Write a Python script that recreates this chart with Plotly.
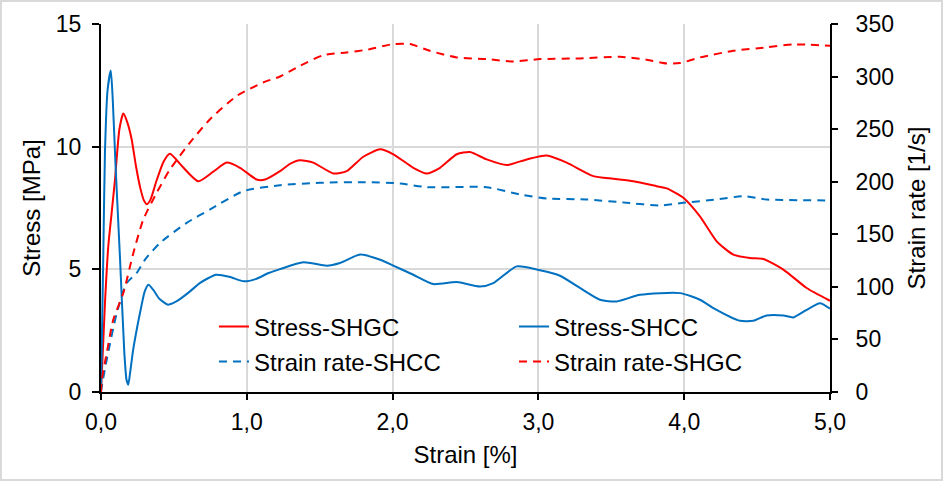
import plotly.graph_objects as go

# ---------------- data ----------------
shcc_stress_x = [0.0, 0.016, 0.027, 0.045, 0.067, 0.08, 0.10, 0.13, 0.16, 0.175, 0.187, 0.20, 0.22, 0.25, 0.267,
                 0.30, 0.325, 0.36, 0.40, 0.46, 0.52, 0.60, 0.68, 0.79, 0.88, 0.98, 1.06, 1.15, 1.228,
                 1.388, 1.548, 1.639, 1.777, 1.915, 2.005, 2.142, 2.279, 2.440, 2.599, 2.691, 2.851,
                 3.011, 3.148, 3.285, 3.422, 3.537, 3.697, 3.971, 4.108, 4.200, 4.383, 4.474, 4.566,
                 4.680, 4.748, 4.840, 4.931, 5.0]
shcc_stress_y = [0.0, 5.66, 9.75, 12.3, 13.1, 12.0, 9.2, 5.5, 1.6, 0.5, 0.3, 0.8, 1.7, 2.7, 3.21,
                 4.1, 4.37, 4.15, 3.8, 3.56, 3.7, 4.05, 4.45, 4.78, 4.7, 4.51, 4.6, 4.85, 5.01,
                 5.29, 5.15, 5.26, 5.60, 5.39, 5.15, 4.78, 4.40, 4.48, 4.30, 4.44, 5.12,
                 4.96, 4.74, 4.24, 3.76, 3.69, 3.96, 4.03, 3.76, 3.42, 2.90, 2.90, 3.12,
                 3.12, 3.04, 3.35, 3.62, 3.40]

shgc_stress_x = [0.0, 0.027, 0.050, 0.073, 0.096, 0.126, 0.153, 0.18, 0.21, 0.24, 0.27, 0.295, 0.315,
                 0.34, 0.38, 0.43, 0.473, 0.555, 0.667, 0.770, 0.862, 0.953, 1.068, 1.125, 1.228, 1.296,
                 1.365, 1.456, 1.593, 1.685, 1.799, 1.914, 2.005, 2.142, 2.234, 2.325, 2.440, 2.531,
                 2.645, 2.783, 2.920, 3.057, 3.194, 3.377, 3.514, 3.651, 3.811, 3.880, 3.994, 4.108,
                 4.223, 4.337, 4.451, 4.542, 4.680, 4.840, 5.0]
shgc_stress_y = [0.0, 3.6, 5.94, 7.3, 8.66, 10.7, 11.35, 11.0, 10.3, 9.2, 8.3, 7.8, 7.65,
                 7.85, 8.6, 9.4, 9.71, 9.21, 8.59, 8.98, 9.35, 9.14, 8.66, 8.66, 9.00, 9.30,
                 9.45, 9.35, 8.91, 9.00, 9.59, 9.89, 9.69, 9.14, 8.91, 9.14, 9.69, 9.78,
                 9.48, 9.25, 9.48, 9.64, 9.35, 8.80, 8.69, 8.59, 8.39, 8.30, 7.92, 7.16,
                 6.14, 5.60, 5.46, 5.42, 4.99, 4.24, 3.72]

shcc_rate_x = [0.0, 0.005, 0.039, 0.108, 0.176, 0.245, 0.302, 0.405, 0.588, 0.748, 0.976, 1.228,
               1.502, 1.799, 2.051, 2.234, 2.645, 2.874, 3.057, 3.331, 3.605, 3.834, 3.994, 4.223,
               4.406, 4.566, 5.0]
shcc_rate_y = [0.0, 5.0, 30.5, 75.0, 103.7, 113.2, 125.9, 141.8, 160.9, 173.6, 191.0, 196.7,
               199.0, 199.6, 198.4, 194.8, 194.8, 187.9, 184.1, 183.1, 180.0, 177.4, 180.0, 183.1,
               186.2, 183.1, 182.2]

shgc_rate_x = [0.0, 0.005, 0.039, 0.084, 0.153, 0.222, 0.290, 0.382, 0.473, 0.610, 0.748, 0.931,
               1.113, 1.228, 1.365, 1.525, 1.685, 1.822, 2.005, 2.119, 2.256, 2.440, 2.645, 2.828,
               3.011, 3.285, 3.560, 3.743, 3.880, 3.971, 4.108, 4.337, 4.566, 4.748, 5.0]
shgc_rate_y = [0.0, 11.4, 36.9, 68.7, 94.1, 132.3, 164.0, 189.5, 211.7, 237.2, 259.4, 281.6,
               294.4, 300.1, 310.2, 320.4, 323.0, 325.5, 330.9, 330.9, 324.5, 318.2, 316.6, 314.4,
               316.6, 317.3, 318.8, 316.0, 312.5, 312.8, 318.2, 324.5, 327.8, 330.6, 329.3]

x_ticks = [0, 1, 2, 3, 4, 5]
y1_ticks = [0, 5, 10, 15]
y2_ticks = [0, 50, 100, 150, 200, 250, 300, 350]

RED = "#FF0000"
BLUE = "#0070C0"
FONT = "Liberation Sans, Arial, sans-serif"
DASH = "8px,6px"

fig = go.Figure()
fig.add_trace(go.Scatter(x=shcc_rate_x, y=shcc_rate_y, name="Strain rate-SHCC", yaxis="y2",
                         mode="lines", line=dict(color=BLUE, width=2, dash=DASH, shape="spline", smoothing=0.6),
                         legend="legend2", legendrank=3))
fig.add_trace(go.Scatter(x=shgc_rate_x, y=shgc_rate_y, name="Strain rate-SHGC", yaxis="y2",
                         mode="lines", line=dict(color=RED, width=2, dash=DASH, shape="spline", smoothing=0.6),
                         legend="legend2", legendrank=4))
fig.add_trace(go.Scatter(x=shgc_stress_x, y=shgc_stress_y, name="Stress-SHGC",
                         mode="lines", line=dict(color=RED, width=2, shape="spline", smoothing=0.6),
                         legend="legend", legendrank=1))
fig.add_trace(go.Scatter(x=shcc_stress_x, y=shcc_stress_y, name="Stress-SHCC",
                         mode="lines", line=dict(color=BLUE, width=2, shape="spline", smoothing=0.6),
                         legend="legend", legendrank=2))
# empty helper trace so the tick-only right axis (y3) gets drawn
fig.add_trace(go.Scatter(x=[], y=[], yaxis="y3", showlegend=False, hoverinfo="skip"))

W, H = 943, 481
L, R, T, B = 101, 113, 24, 89
pw, ph = W - L - R, H - T - B

leg_common = dict(orientation="h", xanchor="left", yanchor="middle", bgcolor="rgba(0,0,0,0)",
                  borderwidth=0, font=dict(family=FONT, size=24, color="black"),
                  entrywidth=255, entrywidthmode="pixels", traceorder="normal")
lx = (214 - L) / pw

fig.update_layout(
    width=W, height=H,
    margin=dict(l=L, r=R, t=T, b=B, autoexpand=False),
    paper_bgcolor="white", plot_bgcolor="white",
    separators=",.",
    font=dict(family=FONT, size=23, color="black"),
    xaxis=dict(range=[0, 5], tickvals=x_ticks, tickformat=".1f", showgrid=True, gridcolor="#D9D9D9",
               gridwidth=2, zeroline=False, showline=True, linecolor="black", linewidth=2,
               ticks="outside", ticklen=6, tickwidth=2, tickcolor="black",
               tickfont=dict(size=23), ticklabelstandoff=2,
               title=dict(text="Strain [%]", font=dict(size=24), standoff=13)),
    yaxis=dict(range=[0, 15], tickvals=y1_ticks, showgrid=True, gridcolor="#D9D9D9", gridwidth=2,
               zeroline=False, showline=True, linecolor="black", linewidth=2,
               ticks="outside", ticklen=7, tickwidth=2, tickcolor="black",
               tickfont=dict(size=23), ticklabelstandoff=6,
               title=dict(text="Stress [MPa]", font=dict(size=24), standoff=8)),
    yaxis2=dict(range=[0, 350], tickvals=y2_ticks, overlaying="y", side="right", showgrid=False,
                zeroline=False, showline=True, linecolor="black", linewidth=2,
                ticks="outside", ticklen=19, tickwidth=2, tickcolor="rgba(0,0,0,0)",
                tickfont=dict(size=23),
                title=dict(text="Strain rate [1/s]", font=dict(size=24), standoff=15)),
    yaxis3=dict(range=[0, 350], tickvals=y2_ticks, overlaying="y", side="right", showgrid=False,
                zeroline=False, showline=False, showticklabels=False,
                ticks="outside", ticklen=7, tickwidth=2, tickcolor="black"),
    legend=dict(x=lx, y=(392 - 327) / ph, **leg_common),
    legend2=dict(x=lx, y=(392 - 362) / ph, **leg_common),
    shapes=[dict(type="rect", xref="paper", yref="paper",
                 x0=(1 - L) / pw, x1=(W - 1 - L) / pw, y0=-(B - 1) / ph,
                 y1=(H - B - 1) / ph, line=dict(color="#D9D9D9", width=2), layer="below")],
)

fig.write_html("out.html", config={"displayModeBar": False},
               post_script="document.body.style.margin='0';document.body.style.overflow='hidden';")
